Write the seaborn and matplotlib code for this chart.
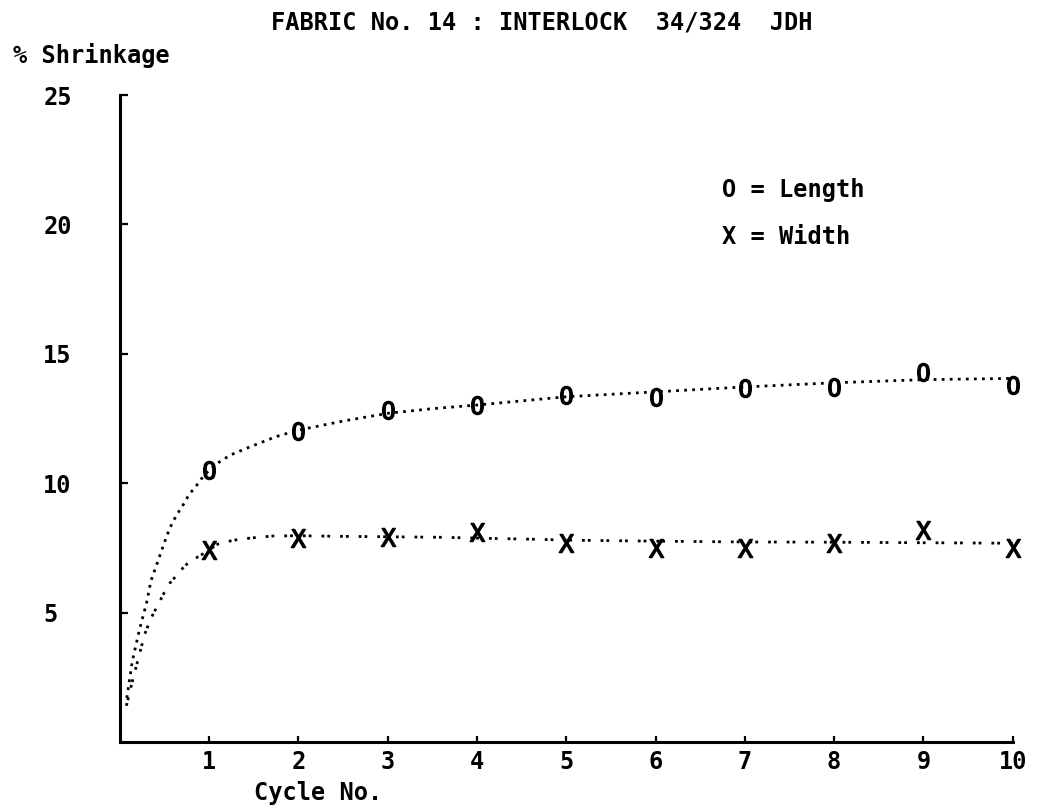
import matplotlib
matplotlib.use("Agg")
import matplotlib.pyplot as plt
import seaborn as sns
import pandas as pd

# Measured shrinkage per wash cycle
cycles = [1, 2, 3, 4, 5, 6, 7, 8, 9, 10]
length_pct = [10.5, 12.0, 12.83, 13.02, 13.41, 13.32, 13.67, 13.73, 14.31, 13.79]
width_pct = [7.42, 7.87, 7.93, 8.13, 7.70, 7.48, 7.48, 7.70, 8.19, 7.48]

# Smoothed trend curves (points along the plotted curves)
length_curve_x = [0.08, 0.14, 0.22, 0.30, 0.35, 0.43, 0.50, 0.56, 0.63, 0.71,
                  0.78, 0.85, 0.91, 1.0, 1.12, 1.24, 1.33, 1.42, 1.53, 1.75,
                  2.0, 2.5, 3.0, 3.5, 4.0, 5.0, 6.0, 7.0, 8.0, 9.0, 10.0]
length_curve_y = [1.7, 3.1, 4.33, 5.36, 6.23, 7.01, 7.70, 8.26, 8.73, 9.16,
                  9.58, 9.86, 10.15, 10.5, 10.83, 11.09, 11.22, 11.35, 11.5, 11.8,
                  12.05, 12.4, 12.7, 12.88, 13.02, 13.34, 13.53, 13.72, 13.88, 14.0, 14.05]
width_curve_x = [0.075, 0.15, 0.28, 0.35, 0.50, 0.56, 0.71, 0.78, 0.9, 1.0,
                 1.1, 1.2, 1.33, 1.44, 1.55, 1.72, 2.0, 2.4, 3.0, 3.6,
                 4.1, 4.7, 5.0, 6.0, 7.0, 8.0, 9.0, 10.0]
width_curve_y = [1.4, 2.46, 4.16, 4.78, 5.78, 6.13, 6.73, 6.97, 7.2, 7.42,
                 7.65, 7.74, 7.83, 7.87, 7.91, 7.96, 7.97, 7.95, 7.93, 7.91,
                 7.87, 7.83, 7.8, 7.76, 7.73, 7.72, 7.70, 7.68]

x_ticks = [1, 2, 3, 4, 5, 6, 7, 8, 9, 10]
y_ticks = [5, 10, 15, 20, 25]

title = "FABRIC No. 14 : INTERLOCK  34/324  JDH"
y_title = "% Shrinkage"
x_title = "Cycle No."
legend_lines = ["O = Length", "X = Width"]

sns.set_theme(style="white")
plt.rcParams["font.family"] = ["DejaVu Sans Mono", "DejaVu Sans"]
plt.rcParams["mathtext.fontset"] = "dejavusans"
plt.rcParams["text.color"] = "black"

W, H = 1042, 810
fig = plt.figure(figsize=(W / 100, H / 100), dpi=100)
fig.patch.set_facecolor("white")

# axes box: x 0..10 maps to 119.7..1012.7 px, y 0..25 maps to 742..95 px
ax = fig.add_axes([119.7 / W, (H - 742) / H, 893 / W, (742 - 95) / H])
ax.set_facecolor("white")

curves = pd.DataFrame({
    "x": length_curve_x + width_curve_x,
    "y": length_curve_y + width_curve_y,
    "s": ["Length"] * len(length_curve_x) + ["Width"] * len(width_curve_x),
})
points = pd.DataFrame({"cycle": cycles * 2,
                       "pct": length_pct + width_pct,
                       "s": ["Length"] * len(cycles) + ["Width"] * len(cycles)})

sns.lineplot(data=curves[curves.s == "Length"], x="x", y="y", ax=ax,
             color="black", lw=2.0, linestyle=(0, (1, 1.9)),
             dash_capstyle="butt", sort=False, legend=False)
sns.lineplot(data=curves[curves.s == "Width"], x="x", y="y", ax=ax,
             color="black", lw=2.0, linestyle=(0, (1, 1.1, 1, 3.6)),
             dash_capstyle="butt", sort=False, legend=False)

for name, mk in (("Length", r"$\mathtt{O}$"), ("Width", r"$\mathtt{X}$")):
    sns.scatterplot(data=points[points.s == name], x="cycle", y="pct", ax=ax,
                    marker=mk, s=170, color="black", linewidth=1.0,
                    edgecolor="black", legend=False, zorder=3, clip_on=False)

ax.set_xlim(0, 10)
ax.set_ylim(0, 25)
ax.set_xlabel("")
ax.set_ylabel("")
for side in ("top", "right"):
    ax.spines[side].set_visible(False)
for side in ("left", "bottom"):
    ax.spines[side].set_visible(True)
    ax.spines[side].set_linewidth(2.2)
    ax.spines[side].set_color("black")

ax.set_xticks(x_ticks)
ax.set_xticklabels([str(v) for v in x_ticks])
ax.set_yticks(y_ticks)
ax.set_yticklabels([str(v) for v in y_ticks])
ax.tick_params(axis="x", direction="in", length=4, width=1.6, color="black",
               pad=6, labelsize=17, labelcolor="black", bottom=True)
ax.tick_params(axis="y", direction="in", length=6, width=1.6, color="black",
               pad=55, labelsize=17, labelcolor="black", left=True)
for lab in ax.get_xticklabels() + ax.get_yticklabels():
    lab.set_fontweight("bold")
for lab in ax.get_yticklabels():
    lab.set_horizontalalignment("left")
ax.grid(False)

fs = 17
txt = dict(fontsize=fs, color="black", fontweight="bold")
fig.text(541.5 / W, 1 - 22 / H, title, ha="center", va="center", **txt)
fig.text(13 / W, 1 - 55 / H, y_title, ha="left", va="center", **txt)
fig.text(254 / W, 1 - 793 / H, x_title, ha="left", va="center", **txt)
fig.text(722 / W, 1 - 190 / H, legend_lines[0], ha="left", va="center", **txt)
fig.text(722 / W, 1 - 237 / H, legend_lines[1], ha="left", va="center", **txt)

fig.savefig("out.png", dpi=100, facecolor="white")
